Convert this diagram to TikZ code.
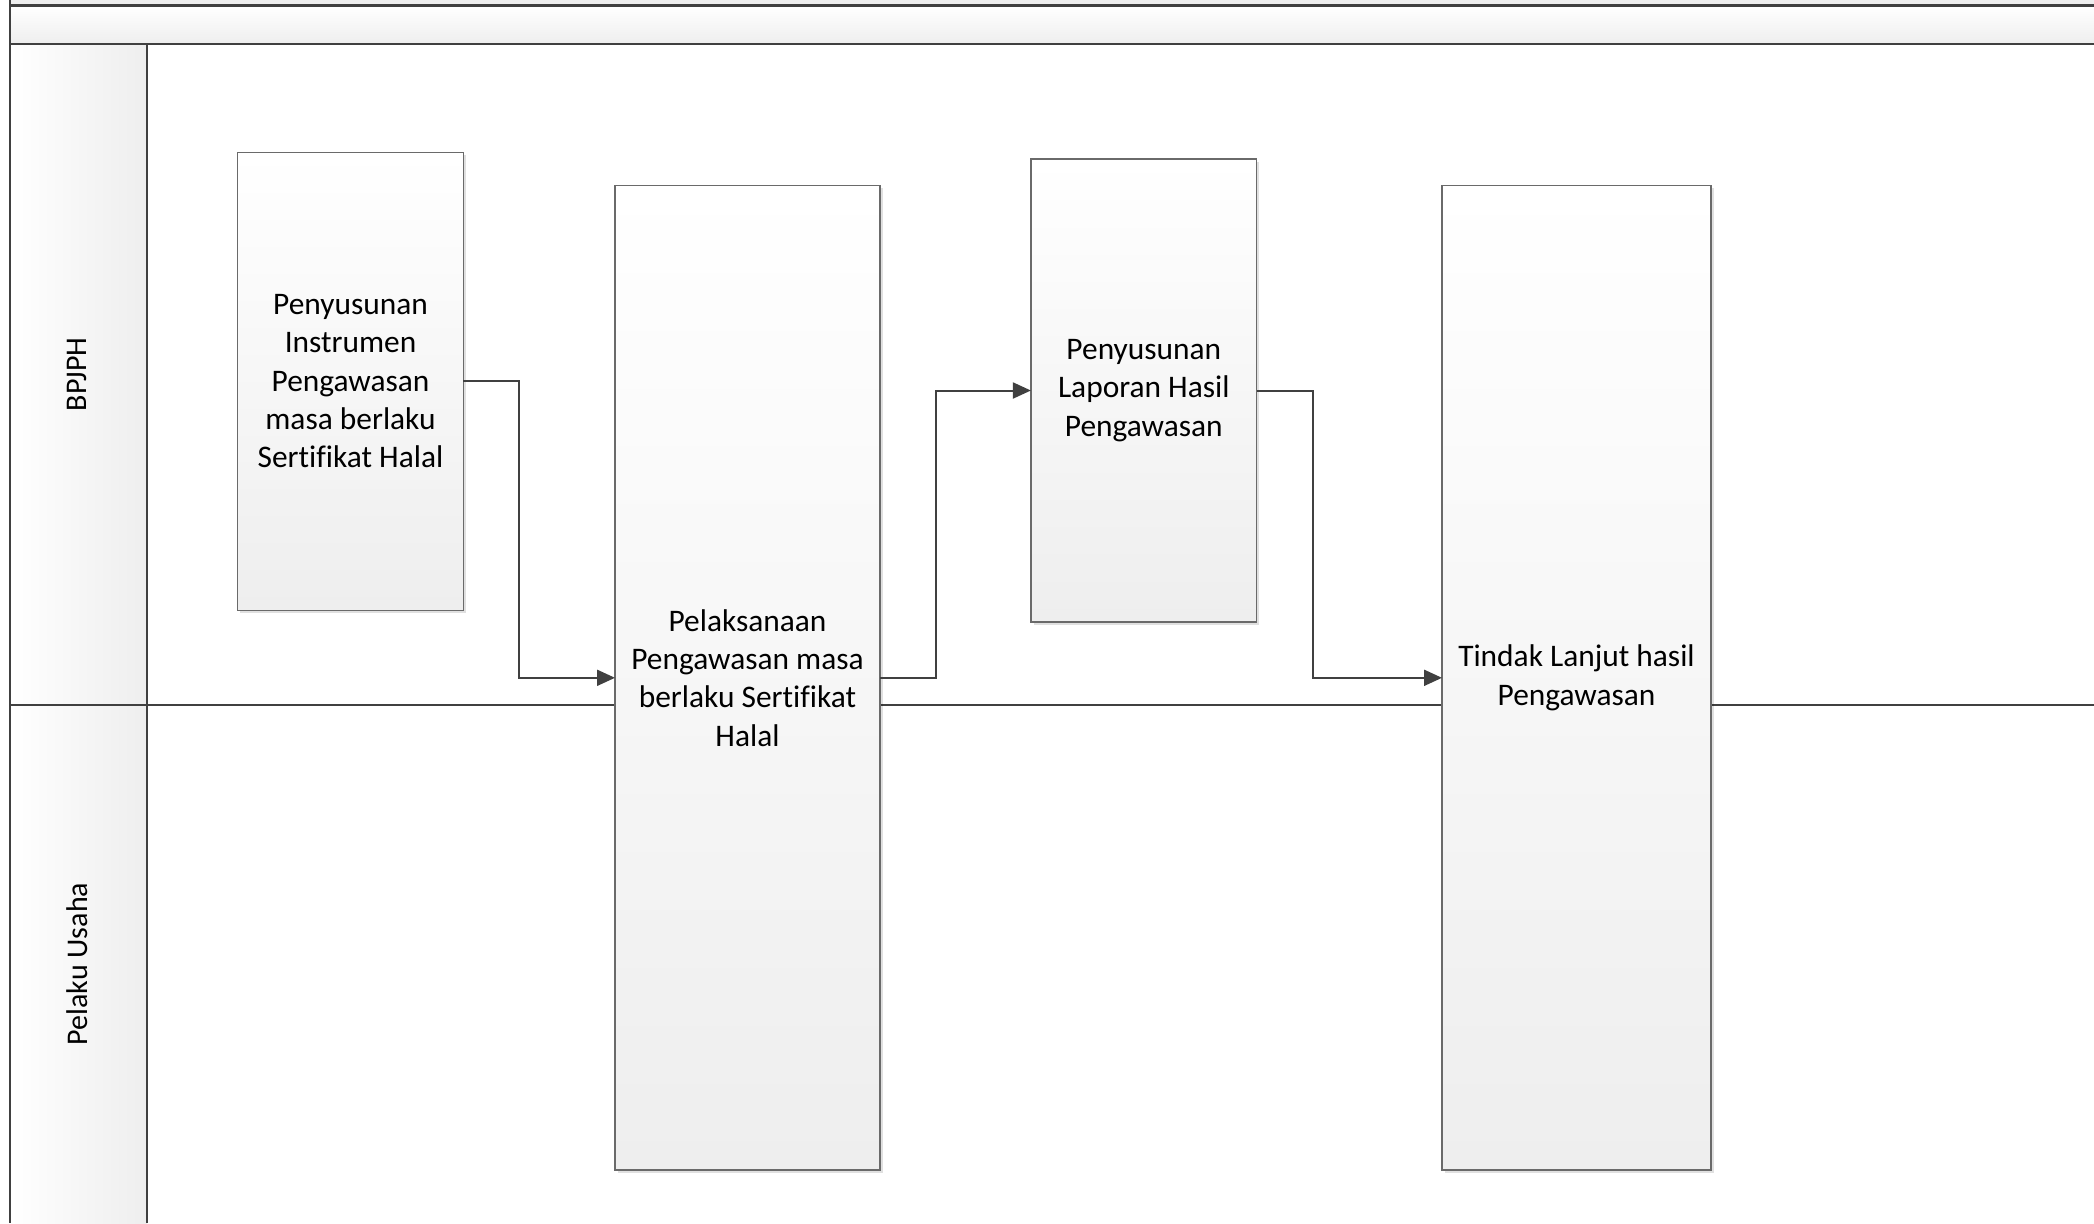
\documentclass[tikz,border=0pt]{standalone}
\usepackage{fontspec}
\setmainfont[Ligatures=CommonOff]{Carlito}
\usetikzlibrary{arrows.meta,shadows}
\definecolor{linec}{HTML}{404040}
\definecolor{boxline}{HTML}{6A6A6A}
\definecolor{shadeend}{HTML}{EEEEEE}
\tikzset{
  lane/.style={line width=1.3pt, draw=linec},
  proc/.style={draw=boxline, line width=0.6pt, top color=white, bottom color=shadeend,
    inner sep=0pt, outer sep=0pt, align=center,
    font=\fontsize{15.7}{19.2}\selectfont,
    drop shadow={shadow xshift=1.3pt, shadow yshift=-1.3pt, fill=black, opacity=0.12}},
  arr/.style={draw=linec, line width=1pt, -{Triangle[length=9pt,width=8pt]}},
  lanelabel/.style={rotate=90, inner sep=0pt, font=\fontsize{15}{18}\selectfont}
}
\begin{document}
\begin{tikzpicture}[x=0.5pt,y=-0.5pt]
\useasboundingbox (0,0) rectangle (2094,1223);
% background bands
\fill[shadeend] (10,0) rectangle (2094,5.5);
\shade[top color=white, bottom color=shadeend] (10,5.5) rectangle (2094,44);
\shade[left color=white, right color=shadeend] (10,44) rectangle (147,1223);
% lane lines
\draw[lane] (10,5.5) -- (2094,5.5);
\draw[lane] (10,44) -- (2094,44);
\draw[lane] (147,44) -- (147,1223);
\draw[lane] (10,705) -- (2094,705);
\draw[lane] (10,0) -- (10,1223);
% lane labels
\node[lanelabel] (l1) at (77,374.5) {BPJPH};
\node[lanelabel] (l2) at (77,964) {Pelaku Usaha};
% process boxes
\node[proc, minimum width=112.9pt, minimum height=229pt] (b1) at (350.5,381.2)
  {Penyusunan\\Instrumen\\Pengawasan\\masa berlaku\\Sertifikat Halal};
\node[proc, minimum width=132.5pt, minimum height=492.2pt] (b2) at (747.5,677.8)
  {Pelaksanaan\\Pengawasan masa\\berlaku Sertifikat\\Halal};
\node[proc, minimum width=112.9pt, minimum height=231.5pt] (b3) at (1143.8,390.5)
  {Penyusunan\\Laporan Hasil\\Pengawasan};
\node[proc, minimum width=134.5pt, minimum height=492.2pt] (b4) at (1576.5,677.8)
  {Tindak Lanjut hasil\\Pengawasan};
% connectors
\draw[arr] (b1.east) -- ++(56,0) |- (b2.west);
\draw[arr] (b2.east) -- ++(56,0) |- (b3.west);
\draw[arr] (b3.east) -- ++(56,0) |- (b4.west);
\end{tikzpicture}
\end{document}
